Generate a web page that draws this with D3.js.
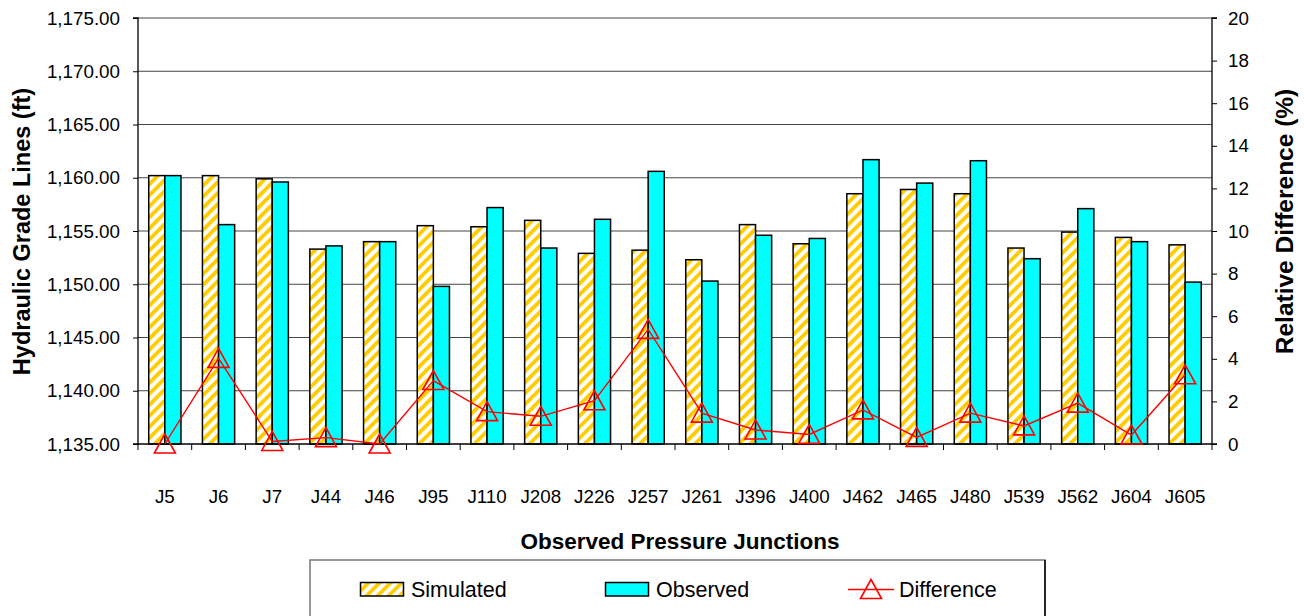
<!DOCTYPE html>
<html>
<head>
<meta charset="utf-8">
<script src="https://cdn.jsdelivr.net/npm/d3@7"></script>
<style>
  html, body { margin: 0; padding: 0; background: #fff; }
  svg { display: block; font-family: "Liberation Sans", Arial, sans-serif; }
</style>
</head>
<body>
<svg id="chart" width="1304" height="616"></svg>
<script>
const categories = ["J5","J6","J7","J44","J46","J95","J110","J208","J226","J257","J261","J396","J400","J462","J465","J480","J539","J562","J604","J605"];
const simulated = [1160.2,1160.2,1159.9,1153.3,1154.0,1155.5,1155.4,1156.0,1152.9,1153.2,1152.3,1155.6,1153.8,1158.5,1158.9,1158.5,1153.4,1154.9,1154.4,1153.7];
const observed  = [1160.2,1155.6,1159.6,1153.6,1154.0,1149.8,1157.2,1153.4,1156.1,1160.6,1150.3,1154.6,1154.3,1161.7,1159.5,1161.6,1152.4,1157.1,1154.0,1150.2];
const difference = [0.0,4.02,0.12,0.3,0.0,2.98,1.52,1.3,2.03,5.38,1.45,0.66,0.45,1.6,0.31,1.45,0.85,1.92,0.42,3.25];
const leftTicks = [1135,1140,1145,1150,1155,1160,1165,1170,1175];
const rightTicks = [0,2,4,6,8,10,12,14,16,18,20];
const seriesNames = ["Simulated","Observed","Difference"];

const svg = d3.select("#chart");
const L = 138, R = 1212, T = 18, B = 444;

const defs = svg.append("defs");
const pat = defs.append("pattern").attr("id","hatch")
  .attr("patternUnits","userSpaceOnUse").attr("width",7.8).attr("height",7.8)
  .attr("patternTransform","rotate(45)");
pat.append("rect").attr("width",7.8).attr("height",7.8).attr("fill","#fff");
pat.append("rect").attr("width",3.8).attr("height",7.8).attr("fill","#FFCC00");

const x = d3.scaleBand().domain(categories).range([L, R]).paddingInner(0).paddingOuter(0);
const yL = d3.scaleLinear().domain([1135,1175]).range([B, T]);
const yR = d3.scaleLinear().domain([0,20]).range([B, T]);
const bw = x.step() * 0.3;

// gridlines
svg.append("g").selectAll("line").data(leftTicks.filter(d => d > 1135)).join("line")
  .attr("x1", L).attr("x2", R)
  .attr("y1", d => yL(d)).attr("y2", d => yL(d))
  .attr("stroke", "#444").attr("stroke-width", 1);

// bars
const g = svg.append("g");
g.selectAll("rect.sim").data(categories).join("rect").attr("class","sim")
  .attr("x", (d) => x(d) + x.step()/2 - bw)
  .attr("width", bw)
  .attr("y", (d,i) => yL(simulated[i]))
  .attr("height", (d,i) => B - yL(simulated[i]))
  .attr("fill", "url(#hatch)").attr("stroke", "#000").attr("stroke-width", 1.5);
g.selectAll("rect.obs").data(categories).join("rect").attr("class","obs")
  .attr("x", (d) => x(d) + x.step()/2)
  .attr("width", bw)
  .attr("y", (d,i) => yL(observed[i]))
  .attr("height", (d,i) => B - yL(observed[i]))
  .attr("fill", "#00FFFF").attr("stroke", "#000").attr("stroke-width", 1.5);

// axes
const axL = d3.axisLeft(yL).tickValues(leftTicks).tickSize(5).tickPadding(13)
  .tickFormat(d3.format(",.2f"));
const gL = svg.append("g").attr("transform", `translate(${L},0)`).call(axL);
const axR = d3.axisRight(yR).tickValues(rightTicks).tickSize(5).tickPadding(11)
  .tickFormat(d3.format("d"));
const gR = svg.append("g").attr("transform", `translate(${R},0)`).call(axR);
const axB = d3.axisBottom(x).tickSize(0).tickPadding(46);
const gB = svg.append("g").attr("transform", `translate(0,${B})`).call(axB);
[gL, gR, gB].forEach(a => {
  a.selectAll("text").attr("font-size", 18.8).attr("fill", "#000")
    .attr("font-family", "'Liberation Sans', Arial, sans-serif");
  a.selectAll("line").attr("stroke", "#000").attr("stroke-width", 1);
  a.select(".domain").attr("stroke", "#000").attr("stroke-width", 1.3);
});
gL.select(".domain").attr("d", `M-5,${T}H0V${B}H-5`);
gR.select(".domain").attr("d", `M5,${T}H0V${B}H5`);
gB.select(".domain").attr("d", `M${L},0H${R}`);
// category boundary ticks on the x axis
svg.append("g").selectAll("line").data(categories.concat(["end"])).join("line")
  .attr("x1", (d,i) => L + i * x.step()).attr("x2", (d,i) => L + i * x.step())
  .attr("y1", B).attr("y2", B + 6).attr("stroke", "#000").attr("stroke-width", 1);

// difference line
const lineGen = d3.line().x((d,i) => x(categories[i]) + x.step()/2).y(d => yR(d));
svg.append("path").datum(difference).attr("d", lineGen)
  .attr("fill", "none").attr("stroke", "#FF0000").attr("stroke-width", 1.4);
const tri = "M0,-10L10.5,9L-10.5,9Z";
svg.append("g").selectAll("path").data(difference).join("path")
  .attr("transform", (d,i) => `translate(${x(categories[i]) + x.step()/2},${yR(d)})`)
  .attr("d", tri).attr("fill", "none").attr("stroke", "#FF0000").attr("stroke-width", 1.6);

// titles
svg.append("text").attr("x", 680).attr("y", 549).attr("text-anchor","middle")
  .attr("font-size", 22.5).attr("font-weight","bold").text("Observed Pressure Junctions");
svg.append("text").attr("transform", `translate(30,231.5) rotate(-90)`)
  .attr("text-anchor","middle").attr("font-size", 23.5).attr("font-weight","bold")
  .text("Hydraulic Grade Lines (ft)");
svg.append("text").attr("transform", `translate(1293,221.5) rotate(-90)`)
  .attr("text-anchor","middle").attr("font-size", 24.5).attr("font-weight","bold")
  .text("Relative Difference (%)");

// legend
const lg = svg.append("g");
lg.append("rect").attr("x", 310).attr("y", 560).attr("width", 735).attr("height", 70)
  .attr("fill", "#fff").attr("stroke", "#777").attr("stroke-width", 1.5);
lg.append("line").attr("x1", 1045).attr("x2", 1045).attr("y1", 560).attr("y2", 616)
  .attr("stroke", "#000").attr("stroke-width", 1.5);
lg.append("rect").attr("x", 360.5).attr("y", 582.5).attr("width", 43).attr("height", 13.5)
  .attr("fill", "url(#hatch)").attr("stroke", "#000").attr("stroke-width", 1.5);
lg.append("text").attr("x", 411).attr("y", 597).attr("font-size", 21.5).text(seriesNames[0]);
lg.append("rect").attr("x", 605.5).attr("y", 582.5).attr("width", 43).attr("height", 13.5)
  .attr("fill", "#00FFFF").attr("stroke", "#000").attr("stroke-width", 1.5);
lg.append("text").attr("x", 656).attr("y", 597).attr("font-size", 21.5).text(seriesNames[1]);
lg.append("line").attr("x1", 848).attr("x2", 894).attr("y1", 589.5).attr("y2", 589.5)
  .attr("stroke", "#FF0000").attr("stroke-width", 1.4);
lg.append("path").attr("transform", "translate(871,589.5)").attr("d", tri)
  .attr("fill", "none").attr("stroke", "#FF0000").attr("stroke-width", 1.6);
lg.append("text").attr("x", 899).attr("y", 597).attr("font-size", 21.5).text(seriesNames[2]);
</script>
</body>
</html>
